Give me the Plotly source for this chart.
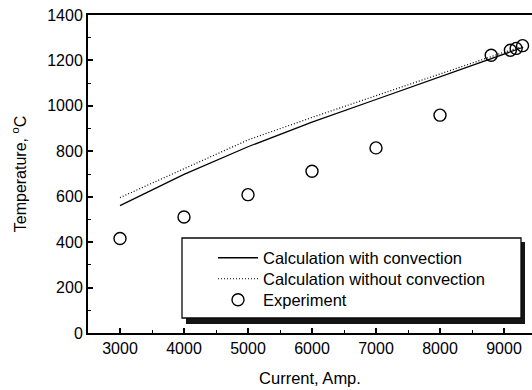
import plotly.graph_objects as go

# Data
calc_x = [3000, 4000, 5000, 6000, 7000, 8000, 9000, 9300]
calc_with_conv = [561, 698, 820, 928, 1028, 1128, 1230, 1258]
calc_without_conv = [596, 724, 850, 949, 1045, 1142, 1236, 1262]

exp_x = [3000, 4000, 5000, 6000, 7000, 8000, 8800, 9100, 9190, 9290]
exp_y = [416, 511, 609, 712, 815, 959, 1223, 1245, 1253, 1265]

x_ticks = [3000, 4000, 5000, 6000, 7000, 8000, 9000]
y_ticks = [0, 200, 400, 600, 800, 1000, 1200, 1400]

W, H = 532, 390
ML, MR, MT, MB = 88, 0, 15, 57
PW, PH = W - ML - MR, H - MT - MB

def px(x):
    return (x - ML) / PW

def py(y):
    return (H - MB - y) / PH

FONT = "Liberation Sans, Arial, Helvetica, sans-serif"

fig = go.Figure()
fig.add_trace(go.Scatter(x=calc_x, y=calc_with_conv, mode="lines",
                         name="Calculation with convection", legend="legend",
                         line=dict(color="black", width=1.3)))
fig.add_trace(go.Scatter(x=calc_x, y=calc_without_conv, mode="lines",
                         name="Calculation without convection", legend="legend2",
                         line=dict(color="black", width=1.2, dash="1px,2px")))
fig.add_trace(go.Scatter(x=exp_x, y=exp_y, mode="markers",
                         name="Experiment", legend="legend3",
                         marker=dict(symbol="circle-open", size=12, color="black",
                                     line=dict(width=1.4, color="black"))))

SHADOW = "rgb(20,20,20)"
shadow_bottom = dict(type="line", xref="paper", yref="paper",
                     x0=px(186), x1=px(525), y0=py(321), y1=py(321),
                     line=dict(width=6, color=SHADOW), layer="above")
shadow_right = dict(type="line", xref="paper", yref="paper",
                    x0=px(523), x1=px(523), y0=py(324), y1=py(242),
                    line=dict(width=4, color=SHADOW), layer="above")
box = dict(type="rect", xref="paper", yref="paper",
           x0=px(182), x1=px(521), y0=py(318), y1=py(238),
           fillcolor="#ffffff",
           line=dict(width=1.3, color="rgb(10,10,10)"), layer="above")

leg_common = dict(xanchor="left", yanchor="middle", bgcolor="rgba(0,0,0,0)",
                  borderwidth=0, font=dict(size=16.5), itemwidth=40)

fig.update_layout(
    width=W, height=H, autosize=False,
    margin=dict(l=ML, r=MR, t=MT, b=MB, pad=0),
    paper_bgcolor="white", plot_bgcolor="white",
    font=dict(family=FONT, size=16, color="black"),
    showlegend=True,
    shapes=[shadow_bottom, shadow_right, box],
    legend=dict(x=px(213), y=py(258), **leg_common),
    legend2=dict(x=px(213), y=py(279), **leg_common),
    legend3=dict(x=px(213), y=py(300), **leg_common),
    xaxis=dict(range=[2500, 9437.5], tickvals=x_ticks,
               ticks="inside", ticklen=5, tickwidth=1.5, tickcolor="black",
               minor=dict(dtick=500, tick0=2500, ticks="inside", ticklen=3,
                          tickwidth=1.2, tickcolor="black"),
               showline=True, linewidth=2, linecolor="black", mirror=True,
               showgrid=False, zeroline=False,
               title=dict(text="Current, Amp.", standoff=16,
                          font=dict(size=16.5))),
    yaxis=dict(range=[0, 1400], tickvals=y_ticks,
               ticks="inside", ticklen=5, tickwidth=1.5, tickcolor="black",
               minor=dict(dtick=100, ticks="inside", ticklen=3,
                          tickwidth=1.2, tickcolor="black"),
               showline=True, linewidth=2, linecolor="black", mirror=False,
               showgrid=False, zeroline=False,
               title=dict(text="Temperature, <sup>o</sup>C", standoff=17,
                          font=dict(size=16))),
)

fig.write_html("out.html")
